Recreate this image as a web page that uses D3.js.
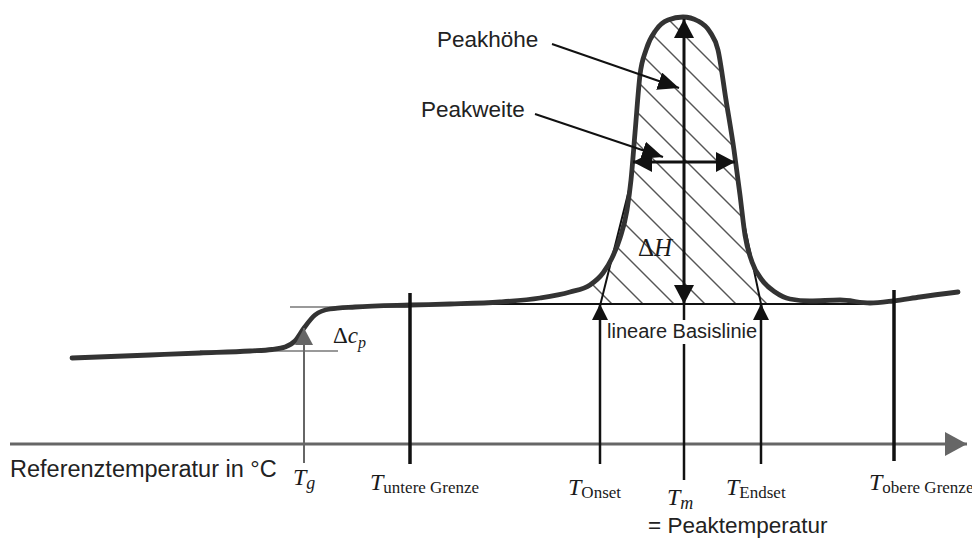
<!DOCTYPE html>
<html>
<head>
<meta charset="utf-8">
<title>DSC Peak</title>
<script src="https://cdn.jsdelivr.net/npm/d3@7"></script>
<style>
  body { margin: 0; background: #fff; }
  svg { display: block; }
  .sans { font-family: "Liberation Sans", Arial, sans-serif; fill: #222; }
  .serif { font-family: "Liberation Serif", "Times New Roman", serif; fill: #1a1a1a; }
</style>
</head>
<body>
<svg id="chart" width="972" height="540"></svg>
<script>
// DSC curve: reference temperature vs. heat flow (arbitrary units)
var curveTemp = [6.2, 14, 19, 24, 26.2, 27.5, 28.5, 29.4, 30.5, 32, 34.5, 40, 44, 49, 53, 56, 58, 59.3, 60.2,
                 61, 61.7, 62.1, 62.5, 63, 63.6, 64.6, 65.8, 67.3, 68.8, 70, 70.8, 71.6, 72.4, 73, 73.5,
                 74.2, 75.2, 76.5, 78, 80, 83, 86, 88.3, 91, 94.8];
var curveHeat = [8.6, 8.9, 9.1, 9.3, 9.45, 9.7, 10.3, 11.6, 12.9, 13.5, 13.7, 13.9, 14.0, 14.2, 14.6, 15.2, 15.9, 17.1, 18.6,
                 20.6, 23.4, 26.4, 31.1, 36.9, 39.4, 41.4, 42.4, 42.7, 42.3, 41.2, 39.4, 34.4, 29.4, 24.9, 20.9,
                 18.2, 16.4, 15.2, 14.5, 14.3, 14.4, 14.1, 14.3, 14.7, 15.2];

// characteristic temperatures on the axis
var markerSubs  = ['g', 'untere Grenze', 'Onset', 'm', 'Endset', 'obere Grenze'];
var markerTemps = [29.4, 40, 59, 67.4, 75.1, 88.4];

// glass transition step (Delta cp)
var glassLevels = [9.3, 13.7];
var glassSpans  = [[19, 32.8], [28, 40]];

// linear baseline and peak geometry
var baselineHeat = 14.0;
var baselineSpan = [44, 86];
var hatchSpan = [57.5, 76.8];
var peakTop = 42.5;
var widthLevel = 28.2;
var widthTemps = [62.3, 72.5];
var onsetTangent  = [[58.7, 12.6], [62.2, 26.6]];
var endsetTangent = [[75.4, 12.6], [73.0, 24.0]];

// layout (pixels) for the axis labels: x offset from marker, baseline y
var labelDx = [-11, -40, -32, -17, -35, -25];
var labelY  = [485, 490, 495, 505, 495, 490];

var svg = d3.select('#chart');
var x = d3.scaleLinear().domain([0, 96]).range([10, 970]);
var y = d3.scaleLinear().domain([0, 44.4]).range([444, 0]);

var defs = svg.append('defs');
function arrowMarker(id, len, half, color){
	defs.append('marker')
		.attr('id', id)
		.attr('markerUnits', 'userSpaceOnUse')
		.attr('viewBox', '0 ' + (-half) + ' ' + len + ' ' + (2*half))
		.attr('refX', len).attr('refY', 0)
		.attr('markerWidth', len).attr('markerHeight', 2*half)
		.attr('orient', 'auto-start-reverse')
		.append('path')
			.attr('d', 'M0,' + (-half) + 'L' + len + ',0L0,' + half + 'Z')
			.attr('fill', color);
}
arrowMarker('axisHead', 22, 12, '#666');
arrowMarker('bigHead', 19, 10, '#111');
arrowMarker('midHead', 16, 8, '#111');
arrowMarker('grayHead', 17, 9, '#666');
arrowMarker('ptrHead', 21, 9, '#111');

var line = d3.line()
	.x(function(d){ return x(d[0]); })
	.y(function(d){ return y(d[1]); })
	.curve(d3.curveMonotoneX);

var curveData = curveTemp.map(function(t, i){ return [t, curveHeat[i]]; });

// hatched area between curve and linear baseline
defs.append('clipPath').attr('id', 'peakClip')
	.append('path')
	.attr('d', d3.area()
		.x(function(d){ return x(d[0]); })
		.y0(y(baselineHeat))
		.y1(function(d){ return y(d[1]); })
		.curve(d3.curveMonotoneX)(curveData));
defs.append('clipPath').attr('id', 'spanClip')
	.append('rect')
	.attr('x', x(hatchSpan[0])).attr('y', 0)
	.attr('width', x(hatchSpan[1]) - x(hatchSpan[0])).attr('height', y(baselineHeat));

var x0 = x(markerTemps[3]) + 21;
svg.append('g').attr('clip-path', 'url(#spanClip)')
	.append('g').attr('clip-path', 'url(#peakClip)')
	.selectAll('line').data(d3.range(-12, 12)).enter()
	.append('line')
		.attr('x1', function(k){ return x0 + 31*k; })
		.attr('y1', y(baselineHeat))
		.attr('x2', function(k){ return x0 + 31*k - 320; })
		.attr('y2', y(baselineHeat) - 320)
		.attr('stroke', '#555').attr('stroke-width', 1.4);

// axis
svg.append('line')
	.attr('x1', x(0)).attr('x2', x(95.7))
	.attr('y1', y(0)).attr('y2', y(0))
	.attr('stroke', '#666').attr('stroke-width', 3)
	.attr('marker-end', 'url(#axisHead)');

// glass transition tangents
svg.selectAll('line.glass').data(glassLevels).enter()
	.append('line').attr('class', 'glass')
		.attr('x1', function(d, i){ return x(glassSpans[i][0]); })
		.attr('x2', function(d, i){ return x(glassSpans[i][1]); })
		.attr('y1', function(d){ return y(d); })
		.attr('y2', function(d){ return y(d); })
		.attr('stroke', '#777').attr('stroke-width', 1.6);

// linear baseline
svg.append('line')
	.attr('x1', x(baselineSpan[0])).attr('x2', x(baselineSpan[1]))
	.attr('y1', y(baselineHeat)).attr('y2', y(baselineHeat))
	.attr('stroke', '#111').attr('stroke-width', 2);

// onset / endset tangents
[onsetTangent, endsetTangent].forEach(function(t){
	svg.append('line')
		.attr('x1', x(t[0][0])).attr('y1', y(t[0][1]))
		.attr('x2', x(t[1][0])).attr('y2', y(t[1][1]))
		.attr('stroke', '#111').attr('stroke-width', 2);
});

// curve
svg.append('path')
	.attr('d', line(curveData))
	.attr('fill', 'none')
	.attr('stroke', '#333')
	.attr('stroke-width', 4.8)
	.attr('stroke-linecap', 'round');

// marker lines
var mTg = markerTemps[0], mU = markerTemps[1], mOn = markerTemps[2],
    mM = markerTemps[3], mEnd = markerTemps[4], mOb = markerTemps[5];

svg.append('line')
	.attr('x1', x(mTg)).attr('x2', x(mTg))
	.attr('y1', y(-1.9)).attr('y2', y(11.6))
	.attr('stroke', '#666').attr('stroke-width', 2)
	.attr('marker-end', 'url(#grayHead)');

[[mU, 15.1, -2], [mOb, 15.4, -1.7]].forEach(function(d){
	svg.append('line')
		.attr('x1', x(d[0])).attr('x2', x(d[0]))
		.attr('y1', y(d[2])).attr('y2', y(d[1]))
		.attr('stroke', '#111').attr('stroke-width', 3.5);
});

[mOn, mEnd].forEach(function(t){
	svg.append('line')
		.attr('x1', x(t)).attr('x2', x(t))
		.attr('y1', y(-2)).attr('y2', y(baselineHeat))
		.attr('stroke', '#111').attr('stroke-width', 2.5)
		.attr('marker-end', 'url(#midHead)');
});

svg.append('line')
	.attr('x1', x(mM)).attr('x2', x(mM))
	.attr('y1', y(-3.6)).attr('y2', y(baselineHeat))
	.attr('stroke', '#111').attr('stroke-width', 2.5);
svg.append('line')
	.attr('x1', x(mM)).attr('x2', x(mM))
	.attr('y1', y(baselineHeat)).attr('y2', y(peakTop))
	.attr('stroke', '#111').attr('stroke-width', 3)
	.attr('marker-start', 'url(#bigHead)')
	.attr('marker-end', 'url(#bigHead)');

// peak width
svg.append('line')
	.attr('x1', x(widthTemps[0])).attr('x2', x(widthTemps[1]))
	.attr('y1', y(widthLevel)).attr('y2', y(widthLevel))
	.attr('stroke', '#111').attr('stroke-width', 3)
	.attr('marker-start', 'url(#bigHead)')
	.attr('marker-end', 'url(#bigHead)');

// pointer arrows
var pointers = [[[54.2, 40], [66.9, 35.6]], [[52.5, 33], [65.3, 28.7]]];
pointers.forEach(function(p){
	svg.append('line')
		.attr('x1', x(p[0][0])).attr('y1', y(p[0][1]))
		.attr('x2', x(p[1][0])).attr('y2', y(p[1][1]))
		.attr('stroke', '#111').attr('stroke-width', 2)
		.attr('marker-end', 'url(#ptrHead)');
});

// texts
svg.append('text').attr('class', 'sans')
	.attr('x', 10).attr('y', 477).attr('font-size', 23.5)
	.text('Referenztemperatur in °C');

svg.append('text').attr('class', 'sans')
	.attr('x', x(pointers[0][0][0]) - 115).attr('y', 47).attr('font-size', 22.5)
	.text('Peakhöhe');
svg.append('text').attr('class', 'sans')
	.attr('x', x(pointers[1][0][0]) - 114).attr('y', 117).attr('font-size', 22.5)
	.text('Peakweite');

svg.append('rect')
	.attr('x', x(mOn) + 4).attr('y', y(baselineHeat) + 16)
	.attr('width', 152).attr('height', 24)
	.attr('fill', '#fff');
svg.append('text').attr('class', 'sans')
	.attr('x', x(mOn) + 7).attr('y', y(baselineHeat) + 34).attr('font-size', 20)
	.text('lineare Basislinie');

svg.append('text').attr('class', 'sans')
	.attr('x', x(mM) - 36).attr('y', 533).attr('font-size', 22.5)
	.text('= Peaktemperatur');

var dH = svg.append('text').attr('class', 'serif')
	.attr('x', x(mM) - 46).attr('y', 256).attr('font-size', 25);
dH.append('tspan').text('Δ');
dH.append('tspan').attr('font-style', 'italic').text('H');

var dC = svg.append('text').attr('class', 'serif')
	.attr('x', x(mTg) + 29).attr('y', 343).attr('font-size', 23);
dC.append('tspan').text('Δ');
dC.append('tspan').attr('font-style', 'italic').text('c');
dC.append('tspan').attr('font-style', 'italic').attr('font-size', 16).attr('dy', 5).text('p');

markerSubs.forEach(function(s, i){
	var t = svg.append('text').attr('class', 'serif')
		.attr('x', x(markerTemps[i]) + labelDx[i]).attr('y', labelY[i]);
	t.append('tspan').attr('font-style', 'italic').attr('font-size', 24).text('T');
	t.append('tspan')
		.attr('font-style', s.length == 1 ? 'italic' : 'normal')
		.attr('font-size', s.length == 1 ? 18 : 17)
		.attr('dy', s.length == 1 ? 4 : 3)
		.text(s);
});
</script>
</body>
</html>
